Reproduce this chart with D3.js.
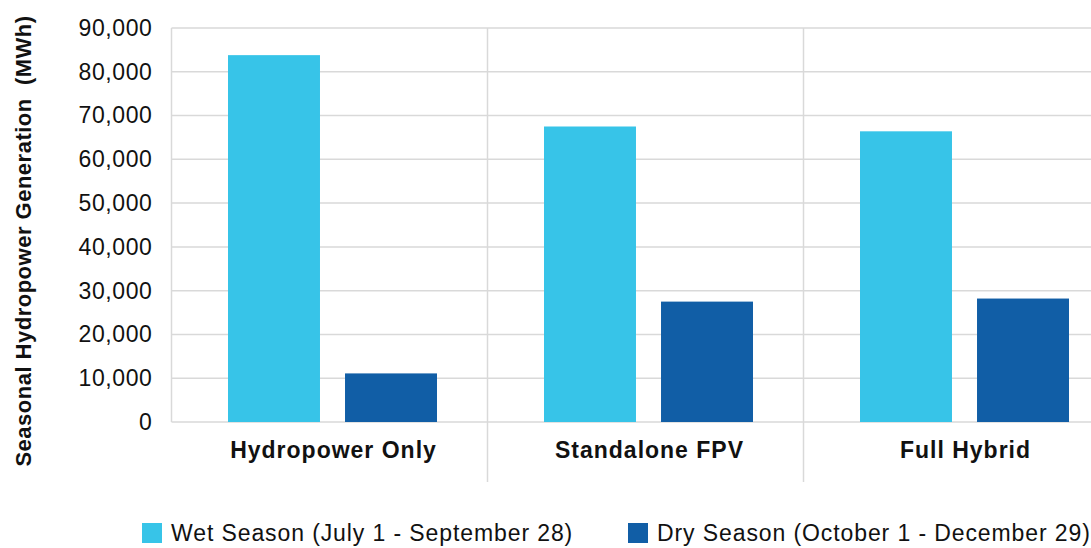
<!DOCTYPE html>
<html>
<head>
<meta charset="utf-8">
<script src="https://cdn.jsdelivr.net/npm/d3@7"></script>
<style>
  body { margin: 0; background: #fff; }
  svg { display: block; font-family: "Liberation Sans", Arial, Helvetica, sans-serif; }
</style>
</head>
<body>
<svg id="chart" width="1091" height="548"></svg>
<script>
var categories = ['Hydropower Only', 'Standalone FPV', 'Full Hybrid'];
var seriesNames = ['Wet Season (July 1 - September 28)', 'Dry Season (October 1 - December 29)'];
var wetValues = [83800, 67500, 66400];
var dryValues = [11100, 27500, 28200];
var yTicks = [0, 10000, 20000, 30000, 40000, 50000, 60000, 70000, 80000, 90000];
var colors = ['#37c4e8', '#115ea6'];

var svg = d3.select('#chart');
var plotLeft = 171.5, plotTop = 28, plotBottom = 422;

var y = d3.scaleLinear().domain([0, 90000]).range([plotBottom, plotTop]);
var x0 = d3.scaleBand().domain(categories).range([plotLeft, plotLeft + 3 * 316]);
// bars: 92 wide, 25 gap, group centred in the band
var x1 = d3.scaleBand().domain([0, 1])
    .range([x0.bandwidth() / 2 - 101.5, x0.bandwidth() / 2 + 107.5])
    .paddingInner(0.214);

var rows = categories.map(function (c, i) {
    return { cat: c, vals: [wetValues[i], dryValues[i]] };
});

// gridlines
svg.append('g').selectAll('line')
    .data(yTicks)
    .enter()
    .append('line')
    .attr('x1', plotLeft)
    .attr('x2', 1091)
    .attr('y1', function (d) { return y(d); })
    .attr('y2', function (d) { return y(d); })
    .attr('stroke', '#d9d9d9')
    .attr('stroke-width', 1.5);

// left border and category separators
svg.append('line')
    .attr('x1', plotLeft).attr('x2', plotLeft)
    .attr('y1', plotTop).attr('y2', plotBottom)
    .attr('stroke', '#d9d9d9').attr('stroke-width', 1.5);

svg.append('g').selectAll('line')
    .data(categories.slice(1))
    .enter()
    .append('line')
    .attr('x1', function (d) { return x0(d); })
    .attr('x2', function (d) { return x0(d); })
    .attr('y1', plotTop)
    .attr('y2', 482)
    .attr('stroke', '#d9d9d9')
    .attr('stroke-width', 1.5);

// y axis labels
var yAxis = d3.axisLeft(y).tickValues(yTicks).tickSize(0).tickPadding(19)
    .tickFormat(d3.format(','));
var yg = svg.append('g').attr('transform', 'translate(' + plotLeft + ',0)').call(yAxis);
yg.select('.domain').remove();
yg.selectAll('text')
    .attr('font-family', '"Liberation Sans", Arial, sans-serif')
    .attr('font-size', 23)
    .attr('letter-spacing', 0.6)
    .attr('fill', '#111');

// bars
svg.append('g').selectAll('g')
    .data(rows)
    .enter()
    .append('g')
    .attr('transform', function (d) { return 'translate(' + x0(d.cat) + ',0)'; })
    .selectAll('rect')
    .data(function (d) { return d.vals; })
    .enter()
    .append('rect')
    .attr('x', function (d, i) { return x1(i); })
    .attr('width', x1.bandwidth())
    .attr('y', function (d) { return y(d); })
    .attr('height', function (d) { return plotBottom - y(d); })
    .attr('fill', function (d, i) { return colors[i]; });

// category labels
svg.append('g').selectAll('text')
    .data(categories)
    .enter()
    .append('text')
    .attr('x', function (d) { return x0(d) + x0.bandwidth() / 2 + 4; })
    .attr('y', 458)
    .attr('text-anchor', 'middle')
    .attr('font-size', 23)
    .attr('letter-spacing', 1)
    .attr('font-weight', 'bold')
    .attr('fill', '#111')
    .text(function (d) { return d; });

// y axis title
svg.append('text')
    .attr('transform', 'translate(31,241) rotate(-90)')
    .attr('text-anchor', 'middle')
    .attr('font-size', 22)
    .attr('letter-spacing', 0.5)
    .attr('font-weight', 'bold')
    .attr('fill', '#111')
    .style('white-space', 'pre')
    .text('Seasonal Hydropower Generation  (MWh)');

// legend
var legendX = [142, 628];
var legend = svg.append('g').selectAll('g')
    .data(seriesNames)
    .enter()
    .append('g')
    .attr('transform', function (d, i) { return 'translate(' + legendX[i] + ',523)'; });
legend.append('rect')
    .attr('width', 20).attr('height', 20)
    .attr('fill', function (d, i) { return colors[i]; });
legend.append('text')
    .attr('x', 29)
    .attr('y', 18)
    .attr('font-size', 23)
    .attr('letter-spacing', 0.9)
    .attr('fill', '#111')
    .text(function (d) { return d; });
</script>
</body>
</html>
